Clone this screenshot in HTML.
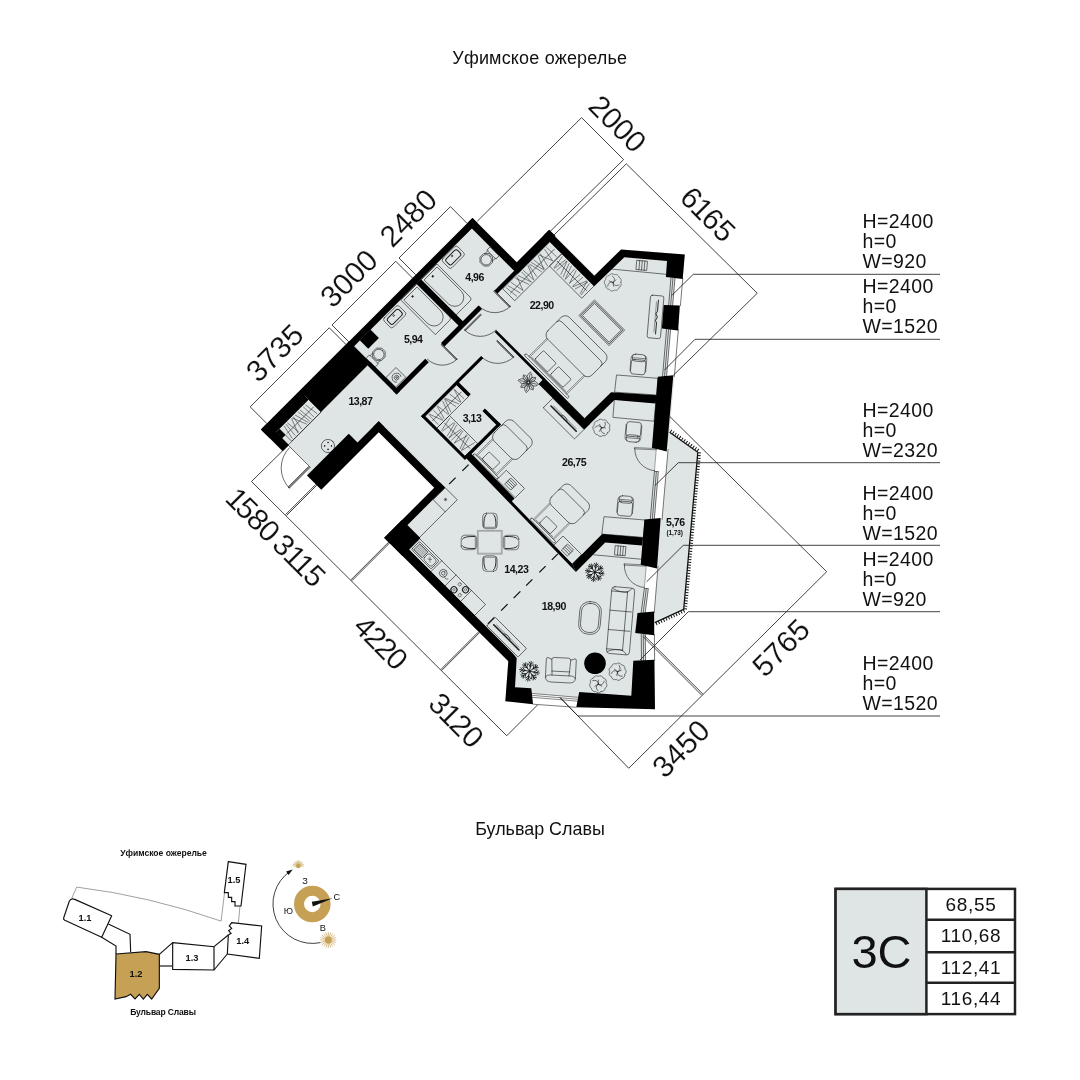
<!DOCTYPE html>
<html lang="ru"><head><meta charset="utf-8"><title>3C</title>
<style>
html,body{margin:0;padding:0;background:#fff;}
body{width:1080px;height:1080px;overflow:hidden;font-family:"Liberation Sans",sans-serif;}
svg{display:block;will-change:transform;}
text{font-family:"Liberation Sans",sans-serif;fill:#111;}
</style></head><body>
<svg width="1080" height="1080" viewBox="0 0 1080 1080">
<rect width="1080" height="1080" fill="#fff"/>
<polygon points="261.00,429.50 472.50,218.00 516.75,262.25 549.25,229.75 595.00,275.50 621.10,249.40 684.80,254.50 654.20,612.00 655.00,709.20 505.30,701.30 508.30,661.20 384.25,537.75 434.25,487.75 378.75,432.25 321.25,489.75 306.50,475.00 310.00,467.00 288.50,445.50 282.50,451.00" fill="#dfe5e5" stroke="none" stroke-width="0" />
<polygon points="669.60,432.20 697.80,452.20 683.70,609.30 654.50,622.80 658.00,540.00" fill="#dfe5e5" stroke="none" stroke-width="0" />
<polygon points="674.98,278.00 682.78,278.00 680.38,306.00 672.58,306.00" fill="#fff" stroke="none" stroke-width="0" />
<line x1="682.78" y1="278.00" x2="680.38" y2="306.00" stroke="#222" stroke-width="0.6" />
<line x1="670.98" y1="278.00" x2="668.58" y2="306.00" stroke="#111" stroke-width="0.6" />
<line x1="672.98" y1="278.00" x2="670.58" y2="306.00" stroke="#111" stroke-width="0.6" />
<line x1="674.98" y1="278.00" x2="672.58" y2="306.00" stroke="#111" stroke-width="0.6" />
<polygon points="670.61,329.00 678.41,329.00 674.29,377.00 666.49,377.00" fill="#fff" stroke="none" stroke-width="0" />
<line x1="678.41" y1="329.00" x2="674.29" y2="377.00" stroke="#222" stroke-width="0.6" />
<line x1="666.61" y1="329.00" x2="662.49" y2="377.00" stroke="#111" stroke-width="0.6" />
<line x1="668.61" y1="329.00" x2="664.49" y2="377.00" stroke="#111" stroke-width="0.6" />
<line x1="670.61" y1="329.00" x2="666.49" y2="377.00" stroke="#111" stroke-width="0.6" />
<polygon points="656.31,449.00 668.11,449.00 666.18,471.50 654.38,471.50" fill="#fff" stroke="none" stroke-width="0" />
<polygon points="658.38,471.50 666.18,471.50 662.02,520.00 654.22,520.00" fill="#fff" stroke="none" stroke-width="0" />
<line x1="668.11" y1="449.00" x2="662.02" y2="520.00" stroke="#222" stroke-width="0.6" />
<line x1="654.38" y1="471.50" x2="650.22" y2="520.00" stroke="#111" stroke-width="0.6" />
<line x1="656.38" y1="471.50" x2="652.22" y2="520.00" stroke="#111" stroke-width="0.6" />
<line x1="658.38" y1="471.50" x2="654.22" y2="520.00" stroke="#111" stroke-width="0.6" />
<line x1="654.38" y1="471.50" x2="658.38" y2="471.50" stroke="#111" stroke-width="0.6" />
<line x1="656.31" y1="449.00" x2="654.38" y2="471.50" stroke="#222" stroke-width="0.4" />
<polygon points="646.27,566.00 658.07,566.00 656.14,588.50 644.34,588.50" fill="#fff" stroke="none" stroke-width="0" />
<polygon points="648.34,588.50 656.14,588.50 654.21,613.00 645.11,613.00" fill="#fff" stroke="none" stroke-width="0" />
<line x1="658.07" y1="566.00" x2="654.21" y2="613.00" stroke="#222" stroke-width="0.6" />
<line x1="644.34" y1="588.50" x2="641.11" y2="613.00" stroke="#111" stroke-width="0.6" />
<line x1="646.34" y1="588.50" x2="643.11" y2="613.00" stroke="#111" stroke-width="0.6" />
<line x1="648.34" y1="588.50" x2="645.11" y2="613.00" stroke="#111" stroke-width="0.6" />
<line x1="644.34" y1="588.50" x2="648.34" y2="588.50" stroke="#111" stroke-width="0.6" />
<line x1="646.27" y1="566.00" x2="644.34" y2="588.50" stroke="#222" stroke-width="0.4" />
<polygon points="645.28,634.00 654.38,634.00 654.59,661.00 645.49,661.00" fill="#fff" stroke="none" stroke-width="0" />
<line x1="654.38" y1="634.00" x2="654.59" y2="661.00" stroke="#222" stroke-width="0.6" />
<line x1="641.28" y1="634.00" x2="641.49" y2="661.00" stroke="#111" stroke-width="0.6" />
<line x1="643.28" y1="634.00" x2="643.49" y2="661.00" stroke="#111" stroke-width="0.6" />
<line x1="645.28" y1="634.00" x2="645.49" y2="661.00" stroke="#111" stroke-width="0.6" />
<polygon points="531.50,693.60 578.60,697.60 576.50,707.30 533.00,704.20" fill="#fff" stroke="none" stroke-width="0" />
<line x1="531.50" y1="693.40" x2="578.80" y2="697.40" stroke="#222" stroke-width="0.55" />
<line x1="531.70" y1="695.30" x2="578.40" y2="699.30" stroke="#222" stroke-width="0.55" />
<line x1="532.00" y1="697.30" x2="578.00" y2="701.20" stroke="#222" stroke-width="0.55" />
<line x1="533.00" y1="704.20" x2="576.50" y2="707.30" stroke="#222" stroke-width="0.6" />
<polyline points="669.60,432.20 697.80,452.20 683.70,609.30 654.80,622.60" fill="none" stroke="#111" stroke-width="1.3" />
<line x1="670.64" y1="430.73" x2="698.84" y2="450.73" stroke="#111" stroke-width="3.0" stroke-dasharray="1.0 1.75"/>
<line x1="699.59" y1="452.36" x2="685.49" y2="609.46" stroke="#111" stroke-width="3.0" stroke-dasharray="1.0 1.75"/>
<line x1="684.45" y1="610.94" x2="655.55" y2="624.24" stroke="#111" stroke-width="3.0" stroke-dasharray="1.0 1.75"/>
<g transform="matrix(0.5,-0.5,0.5,0.5,0,0)" fill="none" stroke="#1c1c1c" stroke-width="0.85" stroke-linejoin="round" stroke-linecap="round">
<rect x="181.00" y="701.30" width="30.00" height="18.30" rx="3.50" />
<rect x="184.70" y="705.00" width="22.60" height="11.10" rx="3.20" stroke-width="1.4"/>
<circle cx="196.00" cy="708.10" r="1.20" />
<path d="M141.7 701.0 H173.0 V767.5 Q173.0 771.0 169.5 771.0 H141.7 Z" />
<path d="M144.6 704.0 H170.1 V753.2 A12.8 12.8 0 0 1 144.6 753.2 Z" />
<circle cx="156.35" cy="709.00" r="1.10" fill="#1c1c1c"/>
<rect x="237.30" y="737.00" width="6.00" height="18.00" rx="0.00" />
<polygon points="235.3,749.7 230.2,754.8 222.8,754.8 217.7,749.7 217.7,742.3 222.8,737.2 230.2,737.2 235.3,742.3"/>
<circle cx="226.50" cy="746.00" r="7.40" />
<line x1="231.50" y1="738.50" x2="237.30" y2="738.50" />
<line x1="231.50" y1="753.50" x2="237.30" y2="753.50" />
<rect x="63.00" y="702.30" width="30.00" height="18.30" rx="3.50" />
<rect x="66.70" y="706.00" width="22.60" height="11.10" rx="3.20" stroke-width="1.4"/>
<circle cx="78.00" cy="709.10" r="1.20" />
<path d="M101.3 701.0 H132.8 V766.5 Q132.8 770.0 129.3 770.0 H101.3 Z" />
<path d="M104.2 704.0 H129.9 V752.1 A12.9 12.9 0 0 1 104.2 752.1 Z" />
<circle cx="116.05" cy="709.00" r="1.10" fill="#1c1c1c"/>
<rect x="8.50" y="724.30" width="6.00" height="18.00" rx="0.00" />
<polygon points="33.3,737.0 28.2,742.1 20.8,742.1 15.7,737.0 15.7,729.6 20.8,724.5 28.2,724.5 33.3,729.6"/>
<circle cx="24.50" cy="733.30" r="7.40" />
<line x1="19.50" y1="725.80" x2="14.50" y2="725.80" />
<line x1="19.50" y1="740.80" x2="14.50" y2="740.80" />
<rect x="9.00" y="763.50" width="19.50" height="19.30" rx="0.00" />
<circle cx="18.90" cy="774.30" r="1.10" />
<circle cx="18.90" cy="774.30" r="3.30" />
<path d="M14.5 779 A6.4 6.4 0 1 1 24.5 777.5" />
<rect x="-149.00" y="708.00" width="58.00" height="25.00" rx="0.00" />
<line x1="-146.00" y1="720.50" x2="-94.00" y2="720.50" />
<line x1="-141.90" y1="710.50" x2="-146.10" y2="730.50" stroke-width="0.7"/>
<line x1="-138.24" y1="710.50" x2="-140.32" y2="730.50" stroke-width="0.7"/>
<line x1="-135.39" y1="710.50" x2="-133.38" y2="730.50" stroke-width="0.7"/>
<line x1="-127.11" y1="710.50" x2="-134.90" y2="730.50" stroke-width="0.7"/>
<line x1="-123.53" y1="710.50" x2="-127.38" y2="730.50" stroke-width="0.7"/>
<line x1="-125.57" y1="710.50" x2="-117.64" y2="730.50" stroke-width="0.7"/>
<line x1="-119.78" y1="710.50" x2="-114.39" y2="730.50" stroke-width="0.7"/>
<line x1="-113.66" y1="710.50" x2="-111.44" y2="730.50" stroke-width="0.7"/>
<line x1="-110.01" y1="710.50" x2="-107.85" y2="730.50" stroke-width="0.7"/>
<line x1="-103.48" y1="710.50" x2="-103.11" y2="730.50" stroke-width="0.7"/>
<line x1="-99.39" y1="710.50" x2="-96.65" y2="730.50" stroke-width="0.7"/>
<line x1="-156.00" y1="733.20" x2="-91.00" y2="733.20" />
<circle cx="-118.00" cy="774.00" r="9.40" />
<circle cx="-114.60" cy="770.60" r="0.70" fill="#1c1c1c"/>
<circle cx="-121.40" cy="777.40" r="0.70" fill="#1c1c1c"/>
<circle cx="-114.60" cy="777.40" r="0.70" fill="#1c1c1c"/>
<circle cx="-121.40" cy="770.60" r="0.70" fill="#1c1c1c"/>
<rect x="9.00" y="841.50" width="63.00" height="23.50" rx="0.00" />
<line x1="12.00" y1="853.25" x2="69.00" y2="853.25" />
<line x1="14.38" y1="844.00" x2="13.62" y2="862.50" stroke-width="0.7"/>
<line x1="15.37" y1="844.00" x2="22.16" y2="862.50" stroke-width="0.7"/>
<line x1="23.21" y1="844.00" x2="23.33" y2="862.50" stroke-width="0.7"/>
<line x1="30.64" y1="844.00" x2="25.59" y2="862.50" stroke-width="0.7"/>
<line x1="31.71" y1="844.00" x2="33.79" y2="862.50" stroke-width="0.7"/>
<line x1="41.42" y1="844.00" x2="34.92" y2="862.50" stroke-width="0.7"/>
<line x1="45.49" y1="844.00" x2="38.94" y2="862.50" stroke-width="0.7"/>
<line x1="46.14" y1="844.00" x2="49.23" y2="862.50" stroke-width="0.7"/>
<line x1="47.15" y1="844.00" x2="54.86" y2="862.50" stroke-width="0.7"/>
<line x1="55.67" y1="844.00" x2="58.14" y2="862.50" stroke-width="0.7"/>
<line x1="64.57" y1="844.00" x2="59.09" y2="862.50" stroke-width="0.7"/>
<line x1="64.84" y1="844.00" x2="65.30" y2="862.50" stroke-width="0.7"/>
<rect x="9.00" y="865.00" width="25.00" height="56.00" rx="0.00" />
<line x1="21.50" y1="868.00" x2="21.50" y2="918.00" />
<line x1="11.50" y1="871.93" x2="31.50" y2="868.07" stroke-width="0.7"/>
<line x1="11.50" y1="873.65" x2="31.50" y2="876.59" stroke-width="0.7"/>
<line x1="11.50" y1="883.21" x2="31.50" y2="878.18" stroke-width="0.7"/>
<line x1="11.50" y1="887.37" x2="31.50" y2="881.72" stroke-width="0.7"/>
<line x1="11.50" y1="886.50" x2="31.50" y2="890.25" stroke-width="0.7"/>
<line x1="11.50" y1="891.69" x2="31.50" y2="892.19" stroke-width="0.7"/>
<line x1="11.50" y1="897.38" x2="31.50" y2="894.09" stroke-width="0.7"/>
<line x1="11.50" y1="897.44" x2="31.50" y2="902.85" stroke-width="0.7"/>
<line x1="11.50" y1="908.93" x2="31.50" y2="901.16" stroke-width="0.7"/>
<line x1="11.50" y1="911.85" x2="31.50" y2="906.19" stroke-width="0.7"/>
<line x1="11.50" y1="912.18" x2="31.50" y2="917.14" stroke-width="0.7"/>
<rect x="214.50" y="791.50" width="93.50" height="24.00" rx="0.00" />
<line x1="217.50" y1="803.50" x2="305.00" y2="803.50" />
<line x1="218.52" y1="794.00" x2="220.48" y2="813.00" stroke-width="0.7"/>
<line x1="222.42" y1="794.00" x2="227.14" y2="813.00" stroke-width="0.7"/>
<line x1="228.70" y1="794.00" x2="232.54" y2="813.00" stroke-width="0.7"/>
<line x1="240.17" y1="794.00" x2="232.63" y2="813.00" stroke-width="0.7"/>
<line x1="237.36" y1="794.00" x2="244.45" y2="813.00" stroke-width="0.7"/>
<line x1="242.71" y1="794.00" x2="249.13" y2="813.00" stroke-width="0.7"/>
<line x1="249.68" y1="794.00" x2="249.19" y2="813.00" stroke-width="0.7"/>
<line x1="252.98" y1="794.00" x2="253.68" y2="813.00" stroke-width="0.7"/>
<line x1="262.03" y1="794.00" x2="254.24" y2="813.00" stroke-width="0.7"/>
<line x1="263.70" y1="794.00" x2="260.18" y2="813.00" stroke-width="0.7"/>
<line x1="265.58" y1="794.00" x2="269.83" y2="813.00" stroke-width="0.7"/>
<line x1="268.98" y1="794.00" x2="273.73" y2="813.00" stroke-width="0.7"/>
<line x1="274.00" y1="794.00" x2="275.88" y2="813.00" stroke-width="0.7"/>
<line x1="282.48" y1="794.00" x2="274.51" y2="813.00" stroke-width="0.7"/>
<line x1="286.46" y1="794.00" x2="281.81" y2="813.00" stroke-width="0.7"/>
<line x1="284.08" y1="794.00" x2="291.80" y2="813.00" stroke-width="0.7"/>
<line x1="295.27" y1="794.00" x2="291.90" y2="813.00" stroke-width="0.7"/>
<line x1="299.16" y1="794.00" x2="299.79" y2="813.00" stroke-width="0.7"/>
<rect x="284.00" y="815.50" width="24.00" height="64.50" rx="0.00" />
<line x1="296.00" y1="818.50" x2="296.00" y2="877.00" />
<line x1="286.50" y1="821.91" x2="305.50" y2="819.09" stroke-width="0.7"/>
<line x1="286.50" y1="822.91" x2="305.50" y2="825.33" stroke-width="0.7"/>
<line x1="286.50" y1="827.24" x2="305.50" y2="827.81" stroke-width="0.7"/>
<line x1="286.50" y1="835.29" x2="305.50" y2="828.21" stroke-width="0.7"/>
<line x1="286.50" y1="840.07" x2="305.50" y2="832.67" stroke-width="0.7"/>
<line x1="286.50" y1="844.23" x2="305.50" y2="837.34" stroke-width="0.7"/>
<line x1="286.50" y1="844.84" x2="305.50" y2="843.63" stroke-width="0.7"/>
<line x1="286.50" y1="852.76" x2="305.50" y2="846.74" stroke-width="0.7"/>
<line x1="286.50" y1="852.56" x2="305.50" y2="854.60" stroke-width="0.7"/>
<line x1="286.50" y1="858.82" x2="305.50" y2="860.05" stroke-width="0.7"/>
<line x1="286.50" y1="859.93" x2="305.50" y2="867.55" stroke-width="0.7"/>
<line x1="286.50" y1="864.21" x2="305.50" y2="869.94" stroke-width="0.7"/>
<line x1="286.50" y1="873.93" x2="305.50" y2="868.24" stroke-width="0.7"/>
<line x1="286.50" y1="876.15" x2="305.50" y2="873.08" stroke-width="0.7"/>
<rect x="264.00" y="894.50" width="30.50" height="60.20" rx="0.00" />
<rect x="265.70" y="896.20" width="27.10" height="56.80" rx="0.00" />
<rect x="267.40" y="897.90" width="23.70" height="53.40" rx="0.00" />
<rect x="169.00" y="879.50" width="3.60" height="86.50" rx="1.50" />
<line x1="172.60" y1="885.10" x2="208.50" y2="885.10" stroke-width="0.6"/>
<line x1="172.60" y1="886.90" x2="208.50" y2="886.90" stroke-width="0.6"/>
<line x1="172.60" y1="959.10" x2="208.50" y2="959.10" stroke-width="0.6"/>
<line x1="172.60" y1="960.90" x2="208.50" y2="960.90" stroke-width="0.6"/>
<line x1="174.20" y1="889.00" x2="174.20" y2="957.00" stroke="#8a8a8a" stroke-width="1.6"/>
<rect x="175.50" y="894.00" width="17.50" height="25.50" rx="1.80" />
<rect x="175.50" y="925.00" width="16.50" height="25.50" rx="1.80" />
<rect x="208.50" y="878.50" width="43.50" height="88.50" rx="8.50" />
<path d="M235.0 878.5 Q240.0 878.5 240.0 884.0 V961.5 Q240.0 967.0 235.0 967.0" />
<rect x="17.50" y="928.00" width="3.60" height="48.00" rx="1.50" />
<line x1="21.10" y1="931.10" x2="53.00" y2="931.10" stroke-width="0.6"/>
<line x1="21.10" y1="932.90" x2="53.00" y2="932.90" stroke-width="0.6"/>
<line x1="21.10" y1="970.10" x2="53.00" y2="970.10" stroke-width="0.6"/>
<line x1="21.10" y1="971.90" x2="53.00" y2="971.90" stroke-width="0.6"/>
<line x1="22.70" y1="935.00" x2="22.70" y2="968.00" stroke="#8a8a8a" stroke-width="1.6"/>
<rect x="23.00" y="941.00" width="14.50" height="21.50" rx="1.80" />
<rect x="53.00" y="927.00" width="39.50" height="50.00" rx="8.50" />
<path d="M75.5 927.0 Q80.5 927.0 80.5 932.5 V971.5 Q80.5 977.0 75.5 977.0" />
<rect x="10.50" y="1049.50" width="3.60" height="48.00" rx="1.50" />
<line x1="14.10" y1="1052.60" x2="46.00" y2="1052.60" stroke-width="0.6"/>
<line x1="14.10" y1="1054.40" x2="46.00" y2="1054.40" stroke-width="0.6"/>
<line x1="14.10" y1="1091.60" x2="46.00" y2="1091.60" stroke-width="0.6"/>
<line x1="14.10" y1="1093.40" x2="46.00" y2="1093.40" stroke-width="0.6"/>
<line x1="15.70" y1="1056.50" x2="15.70" y2="1089.50" stroke="#8a8a8a" stroke-width="1.6"/>
<rect x="16.00" y="1062.50" width="14.50" height="21.50" rx="1.80" />
<rect x="46.00" y="1048.50" width="39.50" height="50.00" rx="8.50" />
<path d="M68.5 1048.5 Q73.5 1048.5 73.5 1054.0 V1093.0 Q73.5 1098.5 68.5 1098.5" />
<rect x="18.00" y="976.50" width="18.00" height="36.50" rx="0.00" />
<rect x="21.20" y="988.75" width="11.60" height="12.00" rx="0.00" />
<line x1="24.10" y1="988.75" x2="24.10" y2="1000.75" />
<line x1="27.00" y1="988.75" x2="27.00" y2="1000.75" />
<line x1="29.90" y1="988.75" x2="29.90" y2="1000.75" />
<rect x="8.40" y="1099.00" width="18.60" height="37.00" rx="0.00" />
<rect x="11.90" y="1111.50" width="11.60" height="12.00" rx="0.00" />
<line x1="14.80" y1="1111.50" x2="14.80" y2="1123.50" />
<line x1="17.70" y1="1111.50" x2="17.70" y2="1123.50" />
<line x1="20.60" y1="1111.50" x2="20.60" y2="1123.50" />
<rect x="135.50" y="951.00" width="19.10" height="62.50" rx="1.00" />
<line x1="145.00" y1="957.00" x2="145.00" y2="1007.50" stroke-width="2.2"/>
<path d="M146.2 976.2 q4.5 6 0 12" />
<line x1="147.60" y1="960.00" x2="147.60" y2="1004.50" stroke-width="0.6"/>
<rect x="-139.00" y="1112.50" width="17.00" height="62.50" rx="1.00" />
<line x1="-131.00" y1="1118.50" x2="-131.00" y2="1169.00" stroke-width="2.2"/>
<path d="M-129.8 1137.8 q4.5 6 0 12" />
<line x1="-128.40" y1="1121.50" x2="-128.40" y2="1166.00" stroke-width="0.6"/>
<rect x="-66.00" y="933.00" width="23.50" height="24.00" rx="0.00" />
<line x1="-56.00" y1="945.00" x2="-52.00" y2="945.00" stroke-width="0.6"/>
<line x1="-55.41" y1="943.59" x2="-52.59" y2="946.41" stroke-width="0.6"/>
<line x1="-54.00" y1="943.00" x2="-54.00" y2="947.00" stroke-width="0.6"/>
<line x1="-52.59" y1="943.59" x2="-55.41" y2="946.41" stroke-width="0.6"/>
<path d="M-66 957 H-119" />
<rect x="-140.50" y="958.50" width="21.50" height="131.50" rx="0.00" />
<line x1="-140.50" y1="1002.50" x2="-119.00" y2="1002.50" />
<line x1="-140.50" y1="1031.00" x2="-119.00" y2="1031.00" />
<line x1="-140.50" y1="1062.00" x2="-119.00" y2="1062.00" />
<rect x="-138.00" y="961.00" width="16.00" height="39.00" rx="1.50" />
<rect x="-136.00" y="963.50" width="12.00" height="16.50" rx="0.50" />
<line x1="-135.00" y1="964.50" x2="-135.00" y2="979.00" stroke-width="0.5"/>
<line x1="-133.30" y1="964.50" x2="-133.30" y2="979.00" stroke-width="0.5"/>
<line x1="-131.60" y1="964.50" x2="-131.60" y2="979.00" stroke-width="0.5"/>
<line x1="-129.90" y1="964.50" x2="-129.90" y2="979.00" stroke-width="0.5"/>
<line x1="-128.20" y1="964.50" x2="-128.20" y2="979.00" stroke-width="0.5"/>
<line x1="-126.50" y1="964.50" x2="-126.50" y2="979.00" stroke-width="0.5"/>
<line x1="-124.80" y1="964.50" x2="-124.80" y2="979.00" stroke-width="0.5"/>
<rect x="-136.00" y="982.00" width="12.00" height="16.00" rx="3.00" />
<path d="M-127 987 l-5 5 M-131 987 l3 4" stroke-width="0.7"/>
<circle cx="-130.00" cy="1016.50" r="5.50" />
<circle cx="-130.00" cy="1016.50" r="2.60" />
<path d="M-132 1021 q-3 4 1 6" stroke-width="0.7"/>
<circle cx="-124.20" cy="1055.30" r="4.30" stroke-width="1.5"/>
<circle cx="-124.20" cy="1055.30" r="1.60" stroke-width="0.6"/>
<circle cx="-135.80" cy="1043.70" r="4.30" stroke-width="1.5"/>
<circle cx="-135.80" cy="1043.70" r="1.60" stroke-width="0.6"/>
<circle cx="-124.60" cy="1044.10" r="2.30" stroke-width="0.7"/>
<circle cx="-135.40" cy="1054.90" r="2.30" stroke-width="0.7"/>
<path d="M204.0 785.5 L204.0 816.7 L202.3 816.7 L202.3 785.5 Z" stroke-width="0.75" stroke="#000" fill="#aaa"/>
<path d="M203.2 785.5 L203.2 816.7" stroke-width="0.45"/>
<path d="M204.0 816.7 A31.2 31.2 0 0 1 172.8 785.5" />
<path d="M98.0 786.5 L98.0 816.3 L96.3 816.3 L96.3 786.5 Z" stroke-width="0.75" stroke="#000" fill="#aaa"/>
<path d="M97.2 786.5 L97.2 816.3" stroke-width="0.45"/>
<path d="M98.0 816.3 A29.8 29.8 0 0 1 68.2 786.5" />
<path d="M166.0 794.5 L134.5 794.5 L134.5 796.2 L166.0 796.2 Z" stroke-width="0.75" stroke="#000" fill="#aaa"/>
<path d="M166.0 795.4 L134.5 795.4" stroke-width="0.45"/>
<path d="M134.5 794.5 A31.5 31.5 0 0 0 166.0 826.0" />
<path d="M157.0 838.3 L157.0 870.7 L155.3 870.7 L155.3 838.3 Z" stroke-width="0.75" stroke="#000" fill="#aaa"/>
<path d="M156.2 838.3 L156.2 870.7" stroke-width="0.45"/>
<path d="M157.0 870.7 A32.4 32.4 0 0 1 124.6 838.3" />
<path d="M-158.5 777.5 L-198.8 777.5 L-198.8 775.1 L-158.5 775.1 Z" stroke-width="0.75" stroke="#000" fill="#aaa"/>
<path d="M-158.5 776.3 L-198.8 776.3" stroke-width="0.45"/>
<path d="M-198.8 777.5 A40.3 40.3 0 0 1 -158.5 737.2" />
<line x1="-157.00" y1="734.00" x2="-157.00" y2="777.50" />
</g>
<line x1="468.60" y1="464.60" x2="462.35" y2="470.85" stroke="#111" stroke-width="1.3" />
<line x1="455.60" y1="477.60" x2="449.10" y2="484.10" stroke="#111" stroke-width="1.3" />
<line x1="557.85" y1="553.85" x2="551.85" y2="559.85" stroke="#111" stroke-width="1.3" />
<line x1="545.60" y1="566.10" x2="539.35" y2="572.35" stroke="#111" stroke-width="1.3" />
<line x1="532.35" y1="579.35" x2="526.10" y2="585.60" stroke="#111" stroke-width="1.3" />
<line x1="520.35" y1="591.35" x2="513.60" y2="598.10" stroke="#111" stroke-width="1.3" />
<line x1="507.60" y1="604.10" x2="501.10" y2="610.60" stroke="#111" stroke-width="1.3" />
<line x1="494.35" y1="617.35" x2="487.85" y2="623.85" stroke="#111" stroke-width="1.3" />
<g fill="none" stroke="#1c1c1c" stroke-width="0.6" stroke-linejoin="round" stroke-linecap="round">
<rect x="477.8" y="530.4" width="24.4" height="23.7" stroke="#666" stroke-width="0.5"/><rect x="478.7" y="531.3" width="22.6" height="21.9" stroke="#777" stroke-width="0.5"/>
<g transform="translate(489.9,521.0) rotate(0.0)">
<rect x="-7.2" y="-7.8" width="14.5" height="15.5" rx="3.6" stroke-width="0.55"/>
<path d="M-6.0 5.8 Q-6.5 -4.8 -3.5 -6.5 M6.0 5.8 Q6.5 -4.8 3.5 -6.5" stroke-width="0.9"/>
<path d="M-4.8 6.3 H4.8" stroke-width="0.5"/>
</g>
<g transform="translate(489.9,563.5) rotate(180.0)">
<rect x="-7.2" y="-7.8" width="14.5" height="15.5" rx="3.6" stroke-width="0.55"/>
<path d="M-6.0 5.8 Q-6.5 -4.8 -3.5 -6.5 M6.0 5.8 Q6.5 -4.8 3.5 -6.5" stroke-width="0.9"/>
<path d="M-4.8 6.3 H4.8" stroke-width="0.5"/>
</g>
<g transform="translate(469.0,542.5) rotate(-90.0)">
<rect x="-7.2" y="-7.8" width="14.5" height="15.5" rx="3.6" stroke-width="0.55"/>
<path d="M-6.0 5.8 Q-6.5 -4.8 -3.5 -6.5 M6.0 5.8 Q6.5 -4.8 3.5 -6.5" stroke-width="0.9"/>
<path d="M-4.8 6.3 H4.8" stroke-width="0.5"/>
</g>
<g transform="translate(511.0,542.5) rotate(90.0)">
<rect x="-7.2" y="-7.8" width="14.5" height="15.5" rx="3.6" stroke-width="0.55"/>
<path d="M-6.0 5.8 Q-6.5 -4.8 -3.5 -6.5 M6.0 5.8 Q6.5 -4.8 3.5 -6.5" stroke-width="0.9"/>
<path d="M-4.8 6.3 H4.8" stroke-width="0.5"/>
</g>
<g transform="translate(638.4,364.4) rotate(5.0)">
<rect x="-7.3" y="-4.6" width="14.6" height="14.6" rx="2.8"/>
<rect x="-6.6" y="-10" width="13.2" height="7" rx="3"/>
<path d="M-7.9 7 V-5.5 Q-7.9 -8.5 -6 -9.3 M7.9 7 V-5.5 Q7.9 -8.5 6 -9.3" stroke-width="0.5"/>
<path d="M-6.6 -6.2 H6.6" stroke-width="0.5"/>
</g>
<g transform="translate(633.4,432.0) rotate(185.0)">
<rect x="-7.3" y="-4.6" width="14.6" height="14.6" rx="2.8"/>
<rect x="-6.6" y="-10" width="13.2" height="7" rx="3"/>
<path d="M-7.9 7 V-5.5 Q-7.9 -8.5 -6 -9.3 M7.9 7 V-5.5 Q7.9 -8.5 6 -9.3" stroke-width="0.5"/>
<path d="M-6.6 -6.2 H6.6" stroke-width="0.5"/>
</g>
<g transform="translate(625.2,506.0) rotate(5.0)">
<rect x="-7.3" y="-4.6" width="14.6" height="14.6" rx="2.8"/>
<rect x="-6.6" y="-10" width="13.2" height="7" rx="3"/>
<path d="M-7.9 7 V-5.5 Q-7.9 -8.5 -6 -9.3 M7.9 7 V-5.5 Q7.9 -8.5 6 -9.3" stroke-width="0.5"/>
<path d="M-6.6 -6.2 H6.6" stroke-width="0.5"/>
</g>
</g>
<g fill="none" stroke="#1c1c1c" stroke-width="0.6" stroke-linejoin="round" stroke-linecap="round">
<polygon points="616.90,375.00 657.80,378.30 656.70,395.00 615.00,392.20"/>
<polygon points="614.80,399.00 655.80,402.50 654.00,421.20 613.30,417.40"/>
<polygon points="604.40,516.70 645.00,520.00 643.50,537.40 602.20,534.10"/>
<polyline points="610.70,269.00 666.30,274.30"/>
<polyline points="593.70,554.80 640.90,559.20"/>
<g transform="translate(641.9,265.4) rotate(4.9)"><rect x="-5.2" y="-4.6" width="10.4" height="9.2"/><path d="M-2.6 -4.6V4.6M0 -4.6V4.6M2.6 -4.6V4.6"/></g>
<g transform="translate(620.4,550.7) rotate(4.9)"><rect x="-5.2" y="-4.6" width="10.4" height="9.2"/><path d="M-2.6 -4.6V4.6M0 -4.6V4.6M2.6 -4.6V4.6"/></g>
<g transform="translate(655.5,316.9) rotate(4.9)"><rect x="-6.7" y="-21.4" width="13.4" height="42.8" rx="2"/><path d="M1.5 -17 V-6 l-1.4 3 l1.8 3 l-1.6 3.5 l1.2 2.5 V17" stroke-width="0.9"/><path d="M-0.3 -15V15" stroke-width="0.4"/></g>
<g transform="translate(620.6,620.8) rotate(4.9)">
<rect x="-11.5" y="-33.5" width="23" height="67" rx="3"/>
<path d="M4.5 -29.5V29.5M-11.5 -29 H4.5 M-11.5 29 H4.5 M-11.5 -9.7H10 M-11.5 9.7H10"/>
<path d="M-10.5 -31.5 Q-2 -27.5 4.5 -29.5 M4.5 -29.5 Q7.5 -31 8.5 -33"/>
<path d="M-10.5 31.5 Q-2 27.5 4.5 29.5 M4.5 29.5 Q7.5 31 8.5 33"/>
</g>
<g transform="translate(590,618) rotate(4.9)"><rect x="-10.8" y="-16.3" width="21.6" height="32.6" rx="9.5"/><rect x="-9" y="-14.5" width="18" height="29" rx="8"/></g>
<g transform="translate(560.8,670) rotate(2.9)">
<path d="M-15 -10.5 Q-15 -12 -13.5 -11.8 L-9.5 -10.3 Q-9 -12.2 -7 -12.2 H7 Q9 -12.2 9.5 -10.3 L13.5 -11.8 Q15 -12 15 -10.5 V7.5 Q15 12.5 9 12.5 H-9 Q-15 12.5 -15 7.5Z"/>
<path d="M-9.5 -10.3 L-8.5 5.5 M9.5 -10.3 L8.5 5.5 M-15 8 Q-14 5 -8.5 5.5 H8.5 Q14 5 15 8 M-9 1.5 H9"/>
</g>
<g transform="translate(613.0,282.4) rotate(0)"><path d="M7.8 0.0 A3.3 3.3 0 0 1 6.0 5.0 A3.3 3.3 0 0 1 1.4 7.7 A3.3 3.3 0 0 1 -3.9 6.8 A3.3 3.3 0 0 1 -7.3 2.7 A3.3 3.3 0 0 1 -7.3 -2.7 A3.3 3.3 0 0 1 -3.9 -6.8 A3.3 3.3 0 0 1 1.4 -7.7 A3.3 3.3 0 0 1 6.0 -5.0 A3.3 3.3 0 0 1 7.8 -0.0" stroke-width="0.5"/><path d="M0 0 Q0.8 4.8 6.1 2.6" stroke-width="0.55"/><path d="M0 0 Q0.3 2.7 0.7 4.0" stroke-width="0.55"/><path d="M0 0 Q-4.6 -1.7 -5.3 4.0" stroke-width="0.55"/><path d="M0 0 Q-2.5 -1.1 -3.8 -1.4" stroke-width="0.55"/><path d="M0 0 Q3.8 -3.1 -0.8 -6.6" stroke-width="0.55"/><path d="M0 0 Q2.1 -1.6 3.1 -2.6" stroke-width="0.55"/></g>
<g transform="translate(601.5,427.8) rotate(40)"><path d="M7.8 0.0 A3.3 3.3 0 0 1 6.0 5.0 A3.3 3.3 0 0 1 1.4 7.7 A3.3 3.3 0 0 1 -3.9 6.8 A3.3 3.3 0 0 1 -7.3 2.7 A3.3 3.3 0 0 1 -7.3 -2.7 A3.3 3.3 0 0 1 -3.9 -6.8 A3.3 3.3 0 0 1 1.4 -7.7 A3.3 3.3 0 0 1 6.0 -5.0 A3.3 3.3 0 0 1 7.8 -0.0" stroke-width="0.5"/><path d="M0 0 Q0.8 4.8 6.1 2.6" stroke-width="0.55"/><path d="M0 0 Q0.3 2.7 0.7 4.0" stroke-width="0.55"/><path d="M0 0 Q-4.6 -1.7 -5.3 4.0" stroke-width="0.55"/><path d="M0 0 Q-2.5 -1.1 -3.8 -1.4" stroke-width="0.55"/><path d="M0 0 Q3.8 -3.1 -0.8 -6.6" stroke-width="0.55"/><path d="M0 0 Q2.1 -1.6 3.1 -2.6" stroke-width="0.55"/></g>
<g transform="translate(617.5,671.7) rotate(20)"><path d="M7.8 0.0 A3.3 3.3 0 0 1 6.0 5.0 A3.3 3.3 0 0 1 1.4 7.7 A3.3 3.3 0 0 1 -3.9 6.8 A3.3 3.3 0 0 1 -7.3 2.7 A3.3 3.3 0 0 1 -7.3 -2.7 A3.3 3.3 0 0 1 -3.9 -6.8 A3.3 3.3 0 0 1 1.4 -7.7 A3.3 3.3 0 0 1 6.0 -5.0 A3.3 3.3 0 0 1 7.8 -0.0" stroke-width="0.5"/><path d="M0 0 Q0.8 4.8 6.1 2.6" stroke-width="0.55"/><path d="M0 0 Q0.3 2.7 0.7 4.0" stroke-width="0.55"/><path d="M0 0 Q-4.6 -1.7 -5.3 4.0" stroke-width="0.55"/><path d="M0 0 Q-2.5 -1.1 -3.8 -1.4" stroke-width="0.55"/><path d="M0 0 Q3.8 -3.1 -0.8 -6.6" stroke-width="0.55"/><path d="M0 0 Q2.1 -1.6 3.1 -2.6" stroke-width="0.55"/></g>
<g transform="translate(598.3,684.2) rotate(70)"><path d="M7.8 0.0 A3.3 3.3 0 0 1 6.0 5.0 A3.3 3.3 0 0 1 1.4 7.7 A3.3 3.3 0 0 1 -3.9 6.8 A3.3 3.3 0 0 1 -7.3 2.7 A3.3 3.3 0 0 1 -7.3 -2.7 A3.3 3.3 0 0 1 -3.9 -6.8 A3.3 3.3 0 0 1 1.4 -7.7 A3.3 3.3 0 0 1 6.0 -5.0 A3.3 3.3 0 0 1 7.8 -0.0" stroke-width="0.5"/><path d="M0 0 Q0.8 4.8 6.1 2.6" stroke-width="0.55"/><path d="M0 0 Q0.3 2.7 0.7 4.0" stroke-width="0.55"/><path d="M0 0 Q-4.6 -1.7 -5.3 4.0" stroke-width="0.55"/><path d="M0 0 Q-2.5 -1.1 -3.8 -1.4" stroke-width="0.55"/><path d="M0 0 Q3.8 -3.1 -0.8 -6.6" stroke-width="0.55"/><path d="M0 0 Q2.1 -1.6 3.1 -2.6" stroke-width="0.55"/></g>
<g transform="translate(528.3,382.4)" stroke-width="0.55" stroke="#111"><g transform="rotate(12.0)"><path d="M1.3 0 Q5.2 -5.2 10.5 0 Q5.2 5.2 1.3 0 M1.3 0 H8.4"/></g><g transform="rotate(57.0)"><path d="M1.3 0 Q4.5 -4.5 9.0 0 Q4.5 4.5 1.3 0 M1.3 0 H7.2"/></g><g transform="rotate(102.0)"><path d="M1.3 0 Q5.2 -5.2 10.5 0 Q5.2 5.2 1.3 0 M1.3 0 H8.4"/></g><g transform="rotate(147.0)"><path d="M1.3 0 Q4.5 -4.5 9.0 0 Q4.5 4.5 1.3 0 M1.3 0 H7.2"/></g><g transform="rotate(192.0)"><path d="M1.3 0 Q5.2 -5.2 10.5 0 Q5.2 5.2 1.3 0 M1.3 0 H8.4"/></g><g transform="rotate(237.0)"><path d="M1.3 0 Q4.5 -4.5 9.0 0 Q4.5 4.5 1.3 0 M1.3 0 H7.2"/></g><g transform="rotate(282.0)"><path d="M1.3 0 Q5.2 -5.2 10.5 0 Q5.2 5.2 1.3 0 M1.3 0 H8.4"/></g><g transform="rotate(327.0)"><path d="M1.3 0 Q4.5 -4.5 9.0 0 Q4.5 4.5 1.3 0 M1.3 0 H7.2"/></g></g>
<g transform="translate(594.8,572.2)" stroke-width="0.8" stroke="#111"><g transform="rotate(10.0)"><path d="M0 0 L9.5 0 M4.3 0 l2.7 -2.4 M4.3 0 l2.7 2.4 M6.6 0 l2.1 -1.9 M6.6 0 l2.1 1.9"/></g><g transform="rotate(55.0)"><path d="M0 0 L9.5 0 M4.3 0 l2.7 -2.4 M4.3 0 l2.7 2.4 M6.6 0 l2.1 -1.9 M6.6 0 l2.1 1.9"/></g><g transform="rotate(100.0)"><path d="M0 0 L9.5 0 M4.3 0 l2.7 -2.4 M4.3 0 l2.7 2.4 M6.6 0 l2.1 -1.9 M6.6 0 l2.1 1.9"/></g><g transform="rotate(145.0)"><path d="M0 0 L9.5 0 M4.3 0 l2.7 -2.4 M4.3 0 l2.7 2.4 M6.6 0 l2.1 -1.9 M6.6 0 l2.1 1.9"/></g><g transform="rotate(190.0)"><path d="M0 0 L9.5 0 M4.3 0 l2.7 -2.4 M4.3 0 l2.7 2.4 M6.6 0 l2.1 -1.9 M6.6 0 l2.1 1.9"/></g><g transform="rotate(235.0)"><path d="M0 0 L9.5 0 M4.3 0 l2.7 -2.4 M4.3 0 l2.7 2.4 M6.6 0 l2.1 -1.9 M6.6 0 l2.1 1.9"/></g><g transform="rotate(280.0)"><path d="M0 0 L9.5 0 M4.3 0 l2.7 -2.4 M4.3 0 l2.7 2.4 M6.6 0 l2.1 -1.9 M6.6 0 l2.1 1.9"/></g><g transform="rotate(325.0)"><path d="M0 0 L9.5 0 M4.3 0 l2.7 -2.4 M4.3 0 l2.7 2.4 M6.6 0 l2.1 -1.9 M6.6 0 l2.1 1.9"/></g></g>
<g transform="translate(529.5,671.3)" stroke-width="0.8" stroke="#111"><g transform="rotate(10.0)"><path d="M0 0 L10.0 0 M4.5 0 l2.8 -2.5 M4.5 0 l2.8 2.5 M7.0 0 l2.2 -2.0 M7.0 0 l2.2 2.0"/></g><g transform="rotate(55.0)"><path d="M0 0 L10.0 0 M4.5 0 l2.8 -2.5 M4.5 0 l2.8 2.5 M7.0 0 l2.2 -2.0 M7.0 0 l2.2 2.0"/></g><g transform="rotate(100.0)"><path d="M0 0 L10.0 0 M4.5 0 l2.8 -2.5 M4.5 0 l2.8 2.5 M7.0 0 l2.2 -2.0 M7.0 0 l2.2 2.0"/></g><g transform="rotate(145.0)"><path d="M0 0 L10.0 0 M4.5 0 l2.8 -2.5 M4.5 0 l2.8 2.5 M7.0 0 l2.2 -2.0 M7.0 0 l2.2 2.0"/></g><g transform="rotate(190.0)"><path d="M0 0 L10.0 0 M4.5 0 l2.8 -2.5 M4.5 0 l2.8 2.5 M7.0 0 l2.2 -2.0 M7.0 0 l2.2 2.0"/></g><g transform="rotate(235.0)"><path d="M0 0 L10.0 0 M4.5 0 l2.8 -2.5 M4.5 0 l2.8 2.5 M7.0 0 l2.2 -2.0 M7.0 0 l2.2 2.0"/></g><g transform="rotate(280.0)"><path d="M0 0 L10.0 0 M4.5 0 l2.8 -2.5 M4.5 0 l2.8 2.5 M7.0 0 l2.2 -2.0 M7.0 0 l2.2 2.0"/></g><g transform="rotate(325.0)"><path d="M0 0 L10.0 0 M4.5 0 l2.8 -2.5 M4.5 0 l2.8 2.5 M7.0 0 l2.2 -2.0 M7.0 0 l2.2 2.0"/></g></g>
<path d="M634.8 448.3 A21.5 21.5 0 0 0 654.6 470.7"/>
<path d="M634.8 447.6 L656.3 448.6 L656.3 449.8 L634.8 448.9Z" stroke-width="0.5"/>
<path d="M624.4 564.5 A21.5 21.5 0 0 0 644.3 587.5"/>
<path d="M624.4 563.8 L645.9 565 L645.9 566.2 L624.4 565.1Z" stroke-width="0.5"/>
</g>
<circle cx="595" cy="663.3" r="10.8" fill="#000"/>
<polygon points="261.00,429.50 472.50,218.00 477.40,222.90 265.90,434.40" fill="#000" stroke="none" stroke-width="0" />
<polygon points="261.00,429.50 299.75,390.75 308.50,399.50 269.75,438.25" fill="#000" stroke="none" stroke-width="0" />
<polygon points="299.75,390.75 349.15,341.35 370.40,362.60 321.00,412.00" fill="#000" stroke="none" stroke-width="0" />
<polygon points="261.00,429.50 267.25,423.25 289.00,445.00 282.75,451.25" fill="#000" stroke="none" stroke-width="0" />
<polygon points="275.75,432.25 279.25,428.75 285.50,435.00 282.00,438.50" fill="#000" stroke="none" stroke-width="0" />
<polygon points="359.75,340.25 370.40,329.60 378.90,338.10 368.25,348.75" fill="#000" stroke="none" stroke-width="0" />
<polygon points="466.90,223.60 472.50,218.00 520.25,265.75 514.65,271.35" fill="#000" stroke="none" stroke-width="0" />
<polygon points="494.50,290.50 520.50,264.50 523.50,267.50 497.50,293.50" fill="#000" stroke="none" stroke-width="0" />
<polygon points="511.50,267.50 549.25,229.75 555.50,236.00 517.75,273.75" fill="#000" stroke="none" stroke-width="0" />
<polygon points="548.75,230.25 594.25,275.75 621.10,249.40 684.80,254.50 682.70,279.10 665.90,276.90 667.00,260.90 624.30,257.20 594.25,286.25 543.50,235.50" fill="#000" stroke="none" stroke-width="0" />
<polygon points="416.40,283.60 420.85,279.15 465.85,324.15 461.40,328.60" fill="#000" stroke="none" stroke-width="0" />
<polygon points="393.10,390.90 425.25,358.75 428.75,362.25 396.60,394.40" fill="#000" stroke="none" stroke-width="0" />
<polygon points="441.00,343.00 478.50,305.50 482.00,309.00 444.50,346.50" fill="#000" stroke="none" stroke-width="0" />
<polygon points="367.10,364.90 370.25,361.75 399.75,391.25 396.60,394.40" fill="#000" stroke="none" stroke-width="0" />
<polygon points="307.00,475.50 348.75,433.75 363.00,448.00 321.25,489.75" fill="#000" stroke="none" stroke-width="0" />
<polygon points="357.00,443.00 378.75,421.25 384.25,426.75 362.50,448.50" fill="#000" stroke="none" stroke-width="0" />
<polygon points="373.25,426.75 378.75,421.25 445.00,487.50 439.50,493.00" fill="#000" stroke="none" stroke-width="0" />
<polygon points="384.25,537.75 439.75,482.25 445.00,487.50 389.50,543.00" fill="#000" stroke="none" stroke-width="0" />
<polygon points="384.25,537.75 402.15,519.85 420.40,538.10 402.50,556.00" fill="#000" stroke="none" stroke-width="0" />
<polygon points="384.25,537.75 397.25,537.75 512.75,653.25 516.70,658.00 515.00,687.30 531.30,688.30 533.00,704.20 505.30,701.30 508.30,661.20" fill="#000" stroke="none" stroke-width="0" />
<polygon points="494.60,332.10 496.50,330.20 545.15,378.85 543.25,380.75" fill="#000" stroke="none" stroke-width="0" />
<polygon points="538.55,383.95 544.40,378.10 590.05,423.75 584.20,429.60" fill="#000" stroke="none" stroke-width="0" />
<polygon points="584.20,429.60 614.40,400.00 655.60,403.50 657.00,395.30 611.10,392.20 584.50,418.20" fill="#000" stroke="none" stroke-width="0" />
<polygon points="421.00,416.20 481.10,356.10 483.25,358.25 423.15,418.35" fill="#000" stroke="none" stroke-width="0" />
<polygon points="421.00,416.20 423.10,414.10 467.00,458.00 464.90,460.10" fill="#000" stroke="none" stroke-width="0" />
<polygon points="454.75,383.25 457.25,380.75 470.75,394.25 468.25,396.75" fill="#000" stroke="none" stroke-width="0" />
<polygon points="482.45,410.95 484.95,408.45 501.00,424.50 498.50,427.00" fill="#000" stroke="none" stroke-width="0" />
<polygon points="465.00,456.00 498.75,422.25 501.00,424.50 467.25,458.25" fill="#000" stroke="none" stroke-width="0" />
<polygon points="464.50,456.50 469.30,451.70 514.55,498.45 511.80,501.20 572.35,563.95 575.90,571.90 509.70,503.30" fill="#000" stroke="none" stroke-width="0" />
<polygon points="575.90,571.90 605.20,542.60 642.20,545.60 643.00,537.40 602.20,534.10 572.35,563.95" fill="#000" stroke="none" stroke-width="0" />
<polygon points="663.70,305.00 679.80,305.60 678.10,330.60 661.90,328.50" fill="#000" stroke="none" stroke-width="0" />
<polygon points="657.80,376.70 673.30,375.20 666.70,451.50 651.90,447.80" fill="#000" stroke="none" stroke-width="0" />
<polygon points="644.40,519.60 660.70,518.10 657.00,568.50 640.70,564.80" fill="#000" stroke="none" stroke-width="0" />
<polygon points="637.50,613.00 654.20,611.40 654.20,635.20 635.20,633.00" fill="#000" stroke="none" stroke-width="0" />
<polygon points="633.30,660.80 654.40,659.70 655.00,709.20 576.30,707.30 579.20,692.00 631.30,695.80" fill="#000" stroke="none" stroke-width="0" />
<polyline points="266.90,423.60 250.15,406.85 329.25,327.75 346.00,344.50" fill="none" stroke="#222" stroke-width="0.85" />
<polyline points="348.75,341.75 332.00,325.00 395.75,261.25 412.50,278.00" fill="none" stroke="#222" stroke-width="0.85" />
<polyline points="415.75,274.75 399.00,258.00 450.38,206.62 467.12,223.38" fill="none" stroke="#222" stroke-width="0.85" />
<polyline points="477.25,221.25 581.60,117.60 623.60,159.60 549.75,231.75" fill="none" stroke="#222" stroke-width="0.85" />
<polyline points="553.50,235.50 626.35,163.85" fill="none" stroke="#222" stroke-width="0.85" />
<polyline points="626.35,163.85 757.25,293.25 673.30,375.30" fill="none" stroke="#222" stroke-width="0.85" />
<polyline points="670.00,416.70 826.70,571.70 628.75,768.25" fill="none" stroke="#222" stroke-width="0.85" />
<polyline points="701.75,695.25 643.25,636.75" fill="none" stroke="#222" stroke-width="0.85" />
<polyline points="702.90,694.10 644.40,635.60" fill="none" stroke="#222" stroke-width="0.85" />
<polyline points="628.75,768.25 560.00,697.50" fill="none" stroke="#222" stroke-width="0.85" />
<polyline points="288.25,445.25 251.50,481.50 506.75,735.75 537.50,705.00" fill="none" stroke="#222" stroke-width="0.85" />
<polyline points="285.60,514.60 315.85,484.35" fill="none" stroke="#222" stroke-width="0.85" />
<polyline points="286.50,515.50 316.75,485.25" fill="none" stroke="#222" stroke-width="0.85" />
<polyline points="350.90,579.90 389.15,541.65" fill="none" stroke="#222" stroke-width="0.85" />
<polyline points="351.80,580.80 390.05,542.55" fill="none" stroke="#222" stroke-width="0.85" />
<polyline points="440.70,669.70 478.95,631.45" fill="none" stroke="#222" stroke-width="0.85" />
<polyline points="441.60,670.60 479.85,632.35" fill="none" stroke="#222" stroke-width="0.85" />
<polyline points="940.00,274.30 693.30,274.30 671.70,295.50" fill="none" stroke="#222" stroke-width="0.85" />
<polyline points="940.00,339.30 695.00,339.30 664.50,370.00" fill="none" stroke="#222" stroke-width="0.85" />
<polyline points="940.00,462.70 678.30,462.70 655.00,485.50" fill="none" stroke="#222" stroke-width="0.85" />
<polyline points="940.00,545.30 683.30,545.30 646.70,581.70" fill="none" stroke="#222" stroke-width="0.85" />
<polyline points="940.00,611.70 688.30,611.70 640.00,660.00" fill="none" stroke="#222" stroke-width="0.85" />
<polyline points="940.00,716.00 578.00,716.00 560.00,697.50" fill="none" stroke="#222" stroke-width="0.85" />
<text transform="translate(274.3,352.5) rotate(-45)" text-anchor="middle" y="10.8" dx="0.0 -0.1 -0.1 -0.1" font-size="30" stroke="#fff" stroke-width="0.15">3735</text>
<text transform="translate(348.7,278.0) rotate(-45)" text-anchor="middle" y="10.8" dx="0.0 -0.1 -0.1 -0.1" font-size="30" stroke="#fff" stroke-width="0.15">3000</text>
<text transform="translate(408.0,217.5) rotate(-45)" text-anchor="middle" y="10.8" dx="0.0 -0.1 -0.1 -0.1" font-size="30" stroke="#fff" stroke-width="0.15">2480</text>
<text transform="translate(618.0,123.5) rotate(45)" text-anchor="middle" y="10.8" dx="0.0 -0.1 -0.1 -0.1" font-size="30" stroke="#fff" stroke-width="0.15">2000</text>
<text transform="translate(708.3,214.0) rotate(45)" text-anchor="middle" y="10.8" dx="0.0 -1.8 -1.8 -0.1" font-size="30" stroke="#fff" stroke-width="0.15">6165</text>
<text transform="translate(780.7,647.3) rotate(-45)" text-anchor="middle" y="10.8" dx="0.0 -0.1 -0.1 -0.1" font-size="30" stroke="#fff" stroke-width="0.15">5765</text>
<text transform="translate(680.7,748.3) rotate(-45)" text-anchor="middle" y="10.8" dx="0.0 -0.1 -0.1 -0.1" font-size="30" stroke="#fff" stroke-width="0.15">3450</text>
<text transform="translate(254.6,515.5) rotate(45)" text-anchor="middle" y="10.8" dx="-1.7 -2.6 -0.9 -0.9" font-size="30" stroke="#fff" stroke-width="0.15">1580</text>
<text transform="translate(299.7,560.2) rotate(45)" text-anchor="middle" y="10.8" dx="0.0 -1.1 -2.1 -1.1" font-size="30" stroke="#fff" stroke-width="0.15">3115</text>
<text transform="translate(381.3,642.6) rotate(45)" text-anchor="middle" y="10.8" dx="0.0 -1.6 -1.6 -1.6" font-size="30" stroke="#fff" stroke-width="0.15">4220</text>
<text transform="translate(456.7,720.0) rotate(45)" text-anchor="middle" y="10.8" dx="0.0 -1.8 -1.8 -0.1" font-size="30" stroke="#fff" stroke-width="0.15">3120</text>
<text x="862.5" y="228.3" font-size="19.5" letter-spacing="0.4">H=2400</text>
<text x="862.5" y="248.3" font-size="19.5" letter-spacing="0.4">h=0</text>
<text x="862.5" y="268.3" font-size="19.5" letter-spacing="0.4">W=920</text>
<text x="862.5" y="293.3" font-size="19.5" letter-spacing="0.4">H=2400</text>
<text x="862.5" y="313.3" font-size="19.5" letter-spacing="0.4">h=0</text>
<text x="862.5" y="333.3" font-size="19.5" letter-spacing="0.4">W=1520</text>
<text x="862.5" y="417.3" font-size="19.5" letter-spacing="0.4">H=2400</text>
<text x="862.5" y="437.3" font-size="19.5" letter-spacing="0.4">h=0</text>
<text x="862.5" y="457.3" font-size="19.5" letter-spacing="0.4">W=2320</text>
<text x="862.5" y="500.0" font-size="19.5" letter-spacing="0.4">H=2400</text>
<text x="862.5" y="520.0" font-size="19.5" letter-spacing="0.4">h=0</text>
<text x="862.5" y="540.0" font-size="19.5" letter-spacing="0.4">W=1520</text>
<text x="862.5" y="566.0" font-size="19.5" letter-spacing="0.4">H=2400</text>
<text x="862.5" y="586.0" font-size="19.5" letter-spacing="0.4">h=0</text>
<text x="862.5" y="606.0" font-size="19.5" letter-spacing="0.4">W=920</text>
<text x="862.5" y="670.0" font-size="19.5" letter-spacing="0.4">H=2400</text>
<text x="862.5" y="690.0" font-size="19.5" letter-spacing="0.4">h=0</text>
<text x="862.5" y="710.0" font-size="19.5" letter-spacing="0.4">W=1520</text>
<text x="539.8" y="64.2" text-anchor="middle" font-size="18" letter-spacing="0.18">Уфимское ожерелье</text>
<text x="540" y="834.8" text-anchor="middle" font-size="17.9" letter-spacing="0">Бульвар Славы</text>
<text x="474.6" y="280.8" text-anchor="middle" font-size="10.6" font-weight="bold" letter-spacing="-0.5">4,96</text>
<text x="541.7" y="308.5" text-anchor="middle" font-size="10.6" font-weight="bold" letter-spacing="-0.5">22,90</text>
<text x="413.2" y="342.9" text-anchor="middle" font-size="10.6" font-weight="bold" letter-spacing="-0.5">5,94</text>
<text x="360.4" y="404.9" text-anchor="middle" font-size="10.6" font-weight="bold" letter-spacing="-0.5">13,87</text>
<text x="472.0" y="422.2" text-anchor="middle" font-size="10.6" font-weight="bold" letter-spacing="-0.5">3,13</text>
<text x="574.1" y="465.8" text-anchor="middle" font-size="10.6" font-weight="bold" letter-spacing="-0.5">26,75</text>
<text x="516.3" y="573.0" text-anchor="middle" font-size="10.6" font-weight="bold" letter-spacing="-0.5">14,23</text>
<text x="553.8" y="610.1" text-anchor="middle" font-size="10.6" font-weight="bold" letter-spacing="-0.5">18,90</text>
<text x="675.3" y="526.4" text-anchor="middle" font-size="10.6" font-weight="bold" letter-spacing="-0.5">5,76</text>
<text x="674.6" y="535.3" text-anchor="middle" font-size="6.5" font-weight="bold" letter-spacing="-0.1">(1,73)</text>
<rect x="835.6" y="888.9" width="179.4" height="125.2" fill="#fff" stroke="#222" stroke-width="2.5"/>
<rect x="835.6" y="888.9" width="90.8" height="125.2" fill="#dfe5e5" stroke="#222" stroke-width="2.5"/>
<line x1="926.4" y1="919.7" x2="1015" y2="919.7" stroke="#222" stroke-width="2.5"/>
<line x1="926.4" y1="952.2" x2="1015" y2="952.2" stroke="#222" stroke-width="2.5"/>
<line x1="926.4" y1="982.8" x2="1015" y2="982.8" stroke="#222" stroke-width="2.5"/>
<text x="881.5" y="968.3" text-anchor="middle" font-size="47">3С</text>
<text x="971" y="911" text-anchor="middle" font-size="19" letter-spacing="0.65">68,55</text>
<text x="971" y="941.8" text-anchor="middle" font-size="19" letter-spacing="0.65">110,68</text>
<text x="971" y="973.6" text-anchor="middle" font-size="19" letter-spacing="0.65">112,41</text>
<text x="971" y="1005.2" text-anchor="middle" font-size="19" letter-spacing="0.65">116,44</text>
<path d="M71.7 898.3 L76.7 887.1 Q148.9 895.9 221.1 921.1 L228.3 861.7" fill="none" stroke="#777" stroke-width="0.7"/>
<polyline points="240.00,906.00 238.33,923.33" fill="none" stroke="#777" stroke-width="0.7" />
<path d="M75.3 899.6 L111.7 915.7 L101.7 937.3 L64.8 920.3 Q63 919.3 63.8 917.5 L69.3 901.2 Q71 897.7 75.3 899.6 Z" fill="#fff" stroke="#111" stroke-width="1.15" stroke-linejoin="round"/>
<polyline points="108.33,924.00 130.00,934.33 130.67,952.33" fill="none" stroke="#111" stroke-width="1.15" />
<polyline points="101.67,937.33 116.00,946.00 116.00,954.00" fill="none" stroke="#111" stroke-width="1.15" />
<polygon points="116.00,954.00 146.00,951.67 159.33,954.33 159.33,988.33 151.67,999.00 147.33,994.33 143.33,999.00 139.33,994.33 135.00,999.00 130.67,994.33 126.00,996.67 115.00,999.00" fill="#c6a155" stroke="#111" stroke-width="1.15" />
<polyline points="159.33,954.33 172.67,942.67" fill="none" stroke="#111" stroke-width="1.15" />
<polyline points="159.33,966.00 172.67,966.00" fill="none" stroke="#111" stroke-width="1.15" />
<polygon points="172.67,942.67 214.00,946.67 214.00,970.00 172.67,969.33" fill="#fff" stroke="#111" stroke-width="1.15" />
<polyline points="214.00,946.67 228.33,935.00" fill="none" stroke="#111" stroke-width="1.15" />
<polyline points="214.00,970.00 227.33,954.00" fill="none" stroke="#111" stroke-width="1.15" />
<polygon points="231.67,922.67 261.67,926.00 259.33,958.33 227.33,954.00 228.33,935.00 231.00,933.33 228.67,930.67 231.67,928.33 229.33,926.00" fill="#fff" stroke="#111" stroke-width="1.15" />
<polygon points="228.33,861.67 246.00,864.33 241.00,906.00 235.00,906.00 235.00,901.67 231.67,901.67 231.67,897.33 228.33,897.33 228.33,892.67 224.33,892.67" fill="#fff" stroke="#111" stroke-width="1.15" />
<text x="85.0" y="921.0" text-anchor="middle" font-size="9.3" font-weight="bold">1.1</text>
<text x="136.0" y="976.6" text-anchor="middle" font-size="9.3" font-weight="bold">1.2</text>
<text x="192.0" y="961.0" text-anchor="middle" font-size="9.3" font-weight="bold">1.3</text>
<text x="242.7" y="944.3" text-anchor="middle" font-size="9.3" font-weight="bold">1.4</text>
<text x="234.0" y="882.6" text-anchor="middle" font-size="9.3" font-weight="bold">1.5</text>
<text x="163.5" y="856.3" text-anchor="middle" font-size="8.55" font-weight="bold" letter-spacing="0">Уфимское ожерелье</text>
<text x="163" y="1014.5" text-anchor="middle" font-size="8.55" font-weight="bold" letter-spacing="-0.17">Бульвар Славы</text>
<circle cx="312.3" cy="904.0" r="13.3" fill="none" stroke="#c6a155" stroke-width="10"/>
<polygon points="311.83,901.80 312.83,906.60 332.67,898.33" fill="#111" stroke="none" stroke-width="0" />
<text x="305.0" y="883.6" text-anchor="middle" font-size="9.2">З</text>
<text x="336.7" y="899.6" text-anchor="middle" font-size="9.2">С</text>
<text x="288.3" y="914.3" text-anchor="middle" font-size="9.2">Ю</text>
<text x="322.7" y="930.9" text-anchor="middle" font-size="9.2">В</text>
<path d="M320.5 942.6 A39.5 39.5 0 0 1 290.2 871.3" fill="none" stroke="#111" stroke-width="0.8"/>
<polygon points="292.73,869.58 286.11,871.39 288.57,875.03" fill="#111" stroke="none" stroke-width="0" />
<g stroke="#c6a155" stroke-width="0.7" fill="none"><line x1="300.3" y1="866.0" x2="303.8" y2="866.0"/><line x1="296.4" y1="866.0" x2="292.8" y2="866.0"/><line x1="296.5" y1="865.4" x2="293.1" y2="864.3"/><line x1="296.8" y1="864.9" x2="293.9" y2="862.8"/><line x1="297.2" y1="864.4" x2="295.1" y2="861.6"/><line x1="297.7" y1="864.2" x2="296.6" y2="860.8"/><line x1="298.3" y1="864.1" x2="298.3" y2="860.5"/><line x1="298.9" y1="864.2" x2="300.0" y2="860.8"/><line x1="299.5" y1="864.4" x2="301.6" y2="861.6"/><line x1="299.9" y1="864.9" x2="302.8" y2="862.8"/><line x1="300.2" y1="865.4" x2="303.6" y2="864.3"/></g><circle cx="298.3" cy="866.0" r="2.3" fill="#c6a155"/>
<g stroke="#c6a155" stroke-width="0.7" fill="none"><line x1="331.1" y1="940.0" x2="336.3" y2="940.0"/><line x1="331.0" y1="940.9" x2="335.9" y2="942.5"/><line x1="330.6" y1="941.6" x2="334.8" y2="944.7"/><line x1="330.0" y1="942.3" x2="333.0" y2="946.5"/><line x1="329.2" y1="942.7" x2="330.8" y2="947.6"/><line x1="328.3" y1="942.8" x2="328.3" y2="948.0"/><line x1="327.5" y1="942.7" x2="325.9" y2="947.6"/><line x1="326.7" y1="942.3" x2="323.6" y2="946.5"/><line x1="326.1" y1="941.6" x2="321.9" y2="944.7"/><line x1="325.7" y1="940.9" x2="320.7" y2="942.5"/><line x1="325.5" y1="940.0" x2="320.3" y2="940.0"/><line x1="325.7" y1="939.1" x2="320.7" y2="937.5"/><line x1="326.1" y1="938.4" x2="321.9" y2="935.3"/><line x1="326.7" y1="937.7" x2="323.6" y2="933.5"/><line x1="327.5" y1="937.3" x2="325.9" y2="932.4"/><line x1="328.3" y1="937.2" x2="328.3" y2="932.0"/><line x1="329.2" y1="937.3" x2="330.8" y2="932.4"/><line x1="330.0" y1="937.7" x2="333.0" y2="933.5"/><line x1="330.6" y1="938.4" x2="334.8" y2="935.3"/><line x1="331.0" y1="939.1" x2="335.9" y2="937.5"/></g><circle cx="328.3" cy="940.0" r="3.4" fill="#c6a155"/>
</svg>
</body></html>
